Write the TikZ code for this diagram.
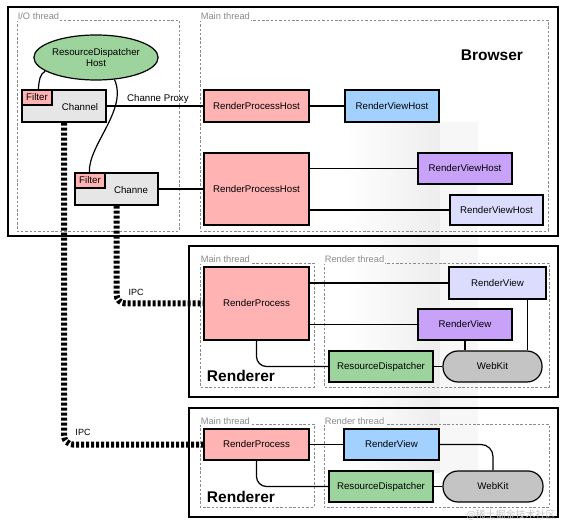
\documentclass[tikz,border=0pt]{standalone}
\usepackage{fontspec}
\setmainfont{Liberation Sans}
\newfontfamily\cjkfont{Noto Sans CJK SC}
\usetikzlibrary{calc,shapes.geometric}
\definecolor{pinkc}{HTML}{FFB3B3}
\definecolor{bluec}{HTML}{A3D1FF}
\definecolor{purplec}{HTML}{C8A2F8}
\definecolor{lavc}{HTML}{DCDCFF}
\definecolor{greenc}{HTML}{9DD49D}
\definecolor{grayc}{HTML}{C4C4C4}
\definecolor{chanc}{HTML}{E6E6E6}
\definecolor{threadc}{HTML}{8A8A8A}
\tikzset{
  x=1pt, y=-1pt,
  every node/.style={font=\fontsize{9.7}{11}\selectfont, inner sep=1pt},
  box/.style={draw=black, line width=1.2pt, rectangle},
  outerbox/.style={draw=black, line width=2.8pt},
  threadbox/.style={draw=threadc, line width=0.7pt, dash pattern=on 2.5pt off 1.8pt},
  threadlbl/.style={anchor=base west, text=threadc, fill=white, inner sep=0.6pt, font=\fontsize{9.3}{10}\selectfont},
  conn/.style={draw=black, line width=1.2pt},
  ipc/.style={draw=black, line width=6pt, dash pattern=on 3pt off 2pt},
  biglbl/.style={font=\fontsize{15.5}{17}\selectfont\bfseries},
  pill/.style={draw=black, line width=1.2pt, fill=grayc, rounded corners=15pt},
}
\begin{document}
\begin{tikzpicture}
\useasboundingbox (0,0) rectangle (567,526);
\fill[white] (0,0) rectangle (567,526);
% faint background shading
\shade[left color=white, right color=black!7] (345,122) rectangle (440,472);
\fill[black!3] (440,122) rectangle (478,472);

% ---------------- Browser ----------------
\draw[outerbox] (8,7) rectangle (558,236);
\draw[threadbox] (17,20) rectangle (179,231);
\draw[threadbox] (200,20) rectangle (548,231);
\node[threadlbl] (lio) at (17,20) {I/O thread};
\node[threadlbl] (lmb) at (200,20) {Main thread};
\node[biglbl] (browser) at (492,55) {Browser};

\node[ellipse, draw=black, line width=1.2pt, fill=greenc, minimum width=115pt, minimum height=45pt, align=center, inner sep=0pt] (rdh) at (96,57.5) {ResourceDispatcher\\Host};

\node[box, fill=chanc, minimum width=84pt, minimum height=32pt] (ch1) at (64,106) {};
\node[box, fill=pinkc, minimum width=30pt, minimum height=15pt] (f1) at (37,97.5) {Filter};
\node (ch1t) at (80,107) {Channel};

\node[box, fill=chanc, minimum width=83pt, minimum height=32pt] (ch2) at (116.5,189) {};
\node[box, fill=pinkc, minimum width=30pt, minimum height=15pt] (f2) at (90,180.5) {Filter};
\node (ch2t) at (131,190) {Channe};

\node[box, fill=pinkc, minimum width=105pt, minimum height=32pt] (rph1) at (256.5,106) {RenderProcessHost};
\node[box, fill=pinkc, minimum width=105pt, minimum height=72pt] (rph2) at (256.5,189) {RenderProcessHost};
\node[box, fill=bluec, minimum width=94pt, minimum height=32pt] (rvh1) at (392,106) {RenderViewHost};
\node[box, fill=purplec, minimum width=94pt, minimum height=31pt] (rvh2) at (465,168.5) {RenderViewHost};
\node[box, fill=lavc, minimum width=93pt, minimum height=30pt] (rvh3) at (496.5,210) {RenderViewHost};

\draw[conn] (ch1.east) -- node[pos=0.53, above, inner sep=2pt] (cplbl) {Channe Proxy} (rph1.west);
\draw[conn] (rph1.east) -- (rvh1.west);
\draw[conn] (ch2.east) -- (ch2.east -| rph2.west);
\draw[conn] (rph2.east |- rvh2.west) -- (rvh2.west);
\draw[conn] (rph2.east |- rvh3.west) -- (rvh3.west);

\coordinate (c1top) at ($(ch1.north west)+(17,0)$);
\coordinate (c2top) at ($(ch2.north west)+(15,0)$);
\draw[conn] (rdh.195) .. controls (40,74) and (39,80) .. (c1top);
\draw[conn] (rdh.-50) .. controls (128,110) and (88,145) .. (c2top);

% ---------------- Renderer 1 ----------------
\draw[outerbox] (189,246) rectangle (558,397);
\draw[threadbox] (200,263) rectangle (314,387);
\draw[threadbox] (324,263) rectangle (549,387);
\node[threadlbl] (lm1) at (200,263) {Main thread};
\node[threadlbl] (lr1) at (324,263) {Render thread};
\node[biglbl] (ren1) at (241,376) {Renderer};

\node[box, fill=pinkc, minimum width=105pt, minimum height=73pt] (rp1) at (256.5,303.5) {RenderProcess};
\node[box, fill=lavc, minimum width=97pt, minimum height=32pt] (rv1l) at (497.5,283) {RenderView};
\node[box, fill=purplec, minimum width=94pt, minimum height=31pt] (rv1p) at (465,324.5) {RenderView};
\node[box, fill=greenc, minimum width=104pt, minimum height=31pt] (rd1) at (381,366.5) {ResourceDispatcher};
\node[pill, minimum width=99pt, minimum height=31pt] (wk1) at (492.5,366.5) {WebKit};

\draw[conn] (rp1.east |- rv1l.west) -- (rv1l.west);
\draw[conn] (rp1.east |- rv1p.west) -- (rv1p.west);
\draw[conn, rounded corners=10pt] (rp1.south) |- (rd1.west);
\draw[conn] (rd1.east) -- (wk1.west);
\draw[conn] (rv1p.south) -- (rv1p.south |- wk1.north);
\coordinate (k1) at ($(rv1l.south east)+(-19,0)$);
\draw[conn] (k1) -- (k1 |- wk1.north);

% ---------------- Renderer 2 ----------------
\draw[outerbox] (189,408) rectangle (558,517);
\draw[threadbox] (200,424) rectangle (314,507);
\draw[threadbox] (324,424) rectangle (549,507);
\node[threadlbl] (lm2) at (200,424) {Main thread};
\node[threadlbl] (lr2) at (324,424) {Render thread};
\node[biglbl] (ren2) at (241,497) {Renderer};

\node[box, fill=pinkc, minimum width=105pt, minimum height=31pt] (rp2) at (256.5,444.5) {RenderProcess};
\node[box, fill=bluec, minimum width=95pt, minimum height=31pt] (rv2) at (391.5,444.5) {RenderView};
\node[box, fill=greenc, minimum width=104pt, minimum height=31pt] (rd2) at (381,486.5) {ResourceDispatcher};
\node[pill, minimum width=100pt, minimum height=31pt] (wk2) at (493,486.5) {WebKit};

\draw[conn] (rp2.east) -- (rv2.west);
\draw[conn, rounded corners=12pt] (rv2.east) -| (wk2.north);
\draw[conn, rounded corners=10pt] (rp2.south) |- (rd2.west);
\draw[conn] (rd2.east) -- (wk2.west);

% ---------------- IPC ----------------
\draw[ipc, rounded corners=9pt] (ch1.south) |- (rp2.west);
\draw[ipc, rounded corners=9pt] (ch2.south) |- (rp1.west);
\node[font=\fontsize{9}{10}\selectfont] (ipc1) at (83,432) {IPC};
\node[font=\fontsize{9}{10}\selectfont] (ipc2) at (136,292) {IPC};

% watermark
\node[text=black!22, font=\cjkfont\fontsize{10}{11}\selectfont] (wm) at (511,515) {@稀土掘金技术社区};
\end{tikzpicture}
\end{document}
